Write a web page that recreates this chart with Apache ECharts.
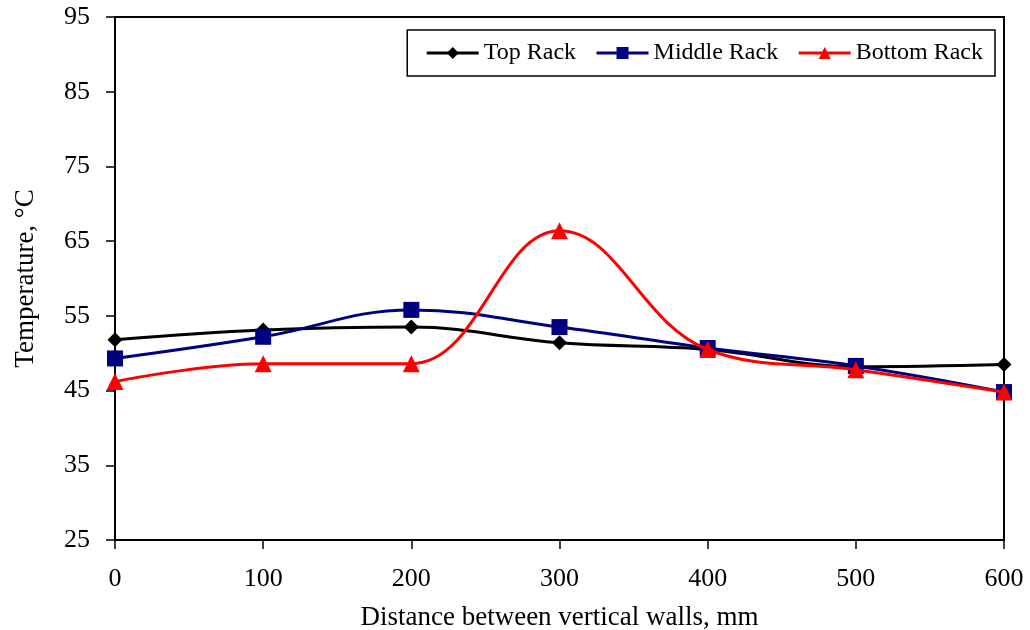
<!DOCTYPE html>
<html><head><meta charset="utf-8">
<script src="https://cdn.jsdelivr.net/npm/echarts@6/dist/echarts.min.js"></script>
<style>html,body{margin:0;padding:0;background:#fff}#c{width:1030px;height:630px}</style>
</head><body><div id="c"></div>
<script>
const xValues = [0, 100, 200, 300, 400, 500, 600];
const topRack = [51.8, 53.1, 53.5, 51.4, 50.5, 48.2, 48.5];
const middleRack = [49.3, 52.2, 55.8, 53.5, 50.7, 48.3, 44.8];
const bottomRack = [46.2, 48.6, 48.6, 66.4, 50.5, 47.8, 44.8];
const seriesNames = ['Top Rack', 'Middle Rack', 'Bottom Rack'];

const font = 'Liberation Serif';
function pts(arr){ return xValues.map((x,i)=>[x, arr[i]]); }
const chart = echarts.init(document.getElementById('c'), null, {renderer:'canvas'});
chart.setOption({
  animation:false,
  textStyle:{fontFamily:font, color:'#000'},
  grid:{left:115, right:26, top:17, bottom:90, show:true, borderColor:'#000', borderWidth:2,
        containLabel:false, outerBoundsMode:'none'},
  legend:{
    right:35, top:30, orient:'horizontal',
    borderColor:'#000', borderWidth:1.5, padding:[11,12,11,18],
    itemWidth:52, itemHeight:15, itemGap:19,
    lineStyle:{width:3},
    textStyle:{fontFamily:font, fontSize:24, color:'#000'},
    data:seriesNames
  },
  xAxis:{
    type:'value', min:0, max:600, interval:100,
    name:'Distance between vertical walls, mm', nameLocation:'middle', nameGap:64,
    nameTextStyle:{fontFamily:font, fontSize:27, color:'#000'},
    axisLine:{show:true, onZero:false, lineStyle:{color:'#000', width:2}},
    axisTick:{show:true, inside:false, length:9, lineStyle:{color:'#000', width:1.5}},
    axisLabel:{fontFamily:font, fontSize:26, color:'#000', margin:26},
    splitLine:{show:false}
  },
  yAxis:{
    type:'value', min:25, max:95, interval:10,
    name:'Temperature, °C', nameLocation:'middle', nameGap:76, nameRotate:90,
    nameTextStyle:{fontFamily:font, fontSize:27, color:'#000'},
    axisLine:{show:true, onZero:false, lineStyle:{color:'#000', width:2}},
    axisTick:{show:true, inside:false, length:9, lineStyle:{color:'#000', width:1.5}},
    axisLabel:{fontFamily:font, fontSize:26, color:'#000', margin:25},
    splitLine:{show:false}
  },
  series:[
    {name:seriesNames[0], type:'line', smooth:0.4, data:pts(topRack),
     symbol:'diamond', symbolSize:15, lineStyle:{color:'#000', width:3}, itemStyle:{color:'#000'}, z:3},
    {name:seriesNames[1], type:'line', smooth:0.4, data:pts(middleRack),
     symbol:'rect', symbolSize:16, lineStyle:{color:'#000080', width:3}, itemStyle:{color:'#000080'}, z:4},
    {name:seriesNames[2], type:'line', smooth:0.4, data:pts(bottomRack),
     symbol:'triangle', symbolSize:17, lineStyle:{color:'#ff0000', width:3}, itemStyle:{color:'#ff0000'}, z:5}
  ]
});
</script></body></html>
